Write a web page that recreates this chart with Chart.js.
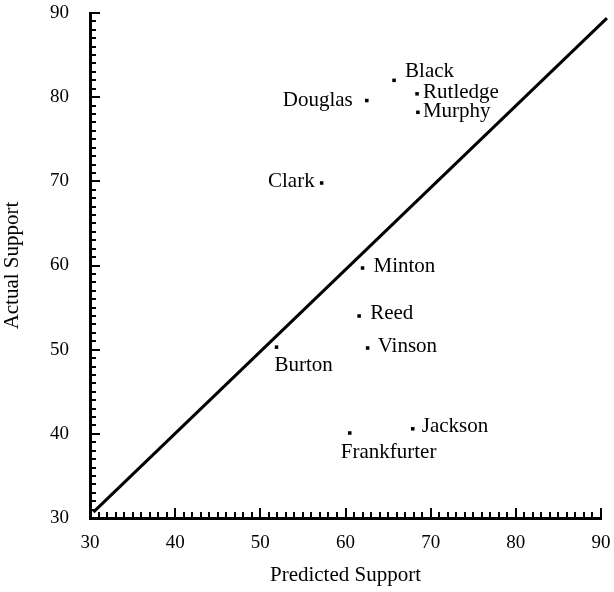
<!DOCTYPE html>
<html>
<head>
<meta charset="utf-8">
<script src="https://cdn.jsdelivr.net/npm/chart.js@4/dist/chart.umd.min.js"></script>
<style>
html, body { margin: 0; padding: 0; background: #fff; }
</style>
</head>
<body>
<canvas id="supportChart" width="614" height="592"></canvas>
<script>
// Justices, predicted vs actual support
const justices = ['Black', 'Douglas', 'Rutledge', 'Murphy', 'Clark', 'Minton', 'Reed', 'Vinson', 'Burton', 'Frankfurter', 'Jackson'];
const predicted = [65.7, 62.5, 68.4, 68.5, 57.2, 62.0, 61.6, 62.6, 51.9, 60.5, 67.9];
const actual = [82.0, 79.6, 80.4, 78.2, 69.8, 59.7, 54.0, 50.2, 50.3, 40.1, 40.6];

// reference line endpoints
const lineX = [30.4, 90.7];
const lineY = [30.7, 89.4];

const axisMin = 30;
const axisMax = 90;

// where each name sits relative to its point (px): dx, baseline dy, align
const labelPlacement = {
    Black: [11, -3, 'left'],
    Douglas: [-14, 5, 'right'],
    Rutledge: [6, 4, 'left'],
    Murphy: [5, 5, 'left'],
    Clark: [-7, 4, 'right'],
    Minton: [11, 4, 'left'],
    Reed: [11, 3, 'left'],
    Vinson: [10, 4, 'left'],
    Burton: [-2, 24, 'left'],
    Frankfurter: [-9, 25, 'left'],
    Jackson: [9, 3, 'left']
};

const serif = "'Liberation Serif', 'Times New Roman', serif";
Chart.defaults.font.family = serif;
Chart.defaults.color = '#000';

// small inward tick marks every unit, longer every ten
const tickMarks = {
    id: 'tickMarks',
    afterDraw(chart) {
        const { ctx, chartArea, scales: { x, y } } = chart;
        ctx.save();
        ctx.strokeStyle = '#000';
        ctx.lineWidth = 2;
        ctx.beginPath();
        for (let v = axisMin; v <= axisMax; v++) {
            const len = v % 10 === 0 ? 10 : 6;
            const px = Math.round(x.getPixelForValue(v));
            ctx.moveTo(px, chartArea.bottom);
            ctx.lineTo(px, chartArea.bottom - len);
            const py = Math.round(y.getPixelForValue(v));
            ctx.moveTo(chartArea.left, py);
            ctx.lineTo(chartArea.left + len, py);
        }
        ctx.stroke();
        ctx.restore();
    }
};

const pointNames = {
    id: 'pointNames',
    afterDatasetsDraw(chart) {
        const { ctx } = chart;
        const meta = chart.getDatasetMeta(0);
        ctx.save();
        ctx.fillStyle = '#000';
        ctx.font = '21px ' + serif;
        ctx.textBaseline = 'alphabetic';
        meta.data.forEach((pt, i) => {
            const name = justices[i];
            const [dx, dy, align] = labelPlacement[name];
            ctx.textAlign = align;
            ctx.fillText(name, pt.x + dx, pt.y + dy);
        });
        ctx.restore();
    }
};

const ctx = document.getElementById('supportChart').getContext('2d');
const supportChart = new Chart(ctx, {
    type: 'scatter',
    data: {
        datasets: [{
            label: 'Justices',
            data: justices.map((j, i) => ({ x: predicted[i], y: actual[i] })),
            pointStyle: 'rect',
            pointRadius: 2.5,
            backgroundColor: '#000',
            borderWidth: 0
        }, {
            label: 'Line',
            data: lineX.map((v, i) => ({ x: v, y: lineY[i] })),
            showLine: true,
            borderColor: '#000',
            borderWidth: 3,
            pointRadius: 0,
            clip: false
        }]
    },
    options: {
        responsive: false,
        animation: false,
        layout: { padding: { top: 13, right: 13, left: 0, bottom: 0 } },
        plugins: {
            legend: { display: false },
            tooltip: { enabled: false }
        },
        scales: {
            x: {
                type: 'linear',
                position: 'bottom',
                min: axisMin,
                max: axisMax,
                afterFit: s => { s.height = 74; s.paddingLeft = 0; s.paddingRight = 0; },
                grid: { display: false, drawTicks: false },
                border: { display: true, color: '#000', width: 3 },
                ticks: { stepSize: 10, padding: 14, font: { size: 19 }, maxRotation: 0 },
                title: { display: true, text: 'Predicted Support', font: { size: 21 }, padding: { top: 0, bottom: 4 } }
            },
            y: {
                type: 'linear',
                min: axisMin,
                max: axisMax,
                afterFit: s => { s.width = 90; s.paddingTop = 0; s.paddingBottom = 0; },
                grid: { display: false, drawTicks: false },
                border: { display: true, color: '#000', width: 3 },
                ticks: { stepSize: 10, padding: 21, font: { size: 19 } },
                title: { display: true, text: 'Actual Support', font: { size: 21 }, padding: { top: 0, bottom: 0 } }
            }
        }
    },
    plugins: [tickMarks, pointNames]
});
</script>
</body>
</html>
